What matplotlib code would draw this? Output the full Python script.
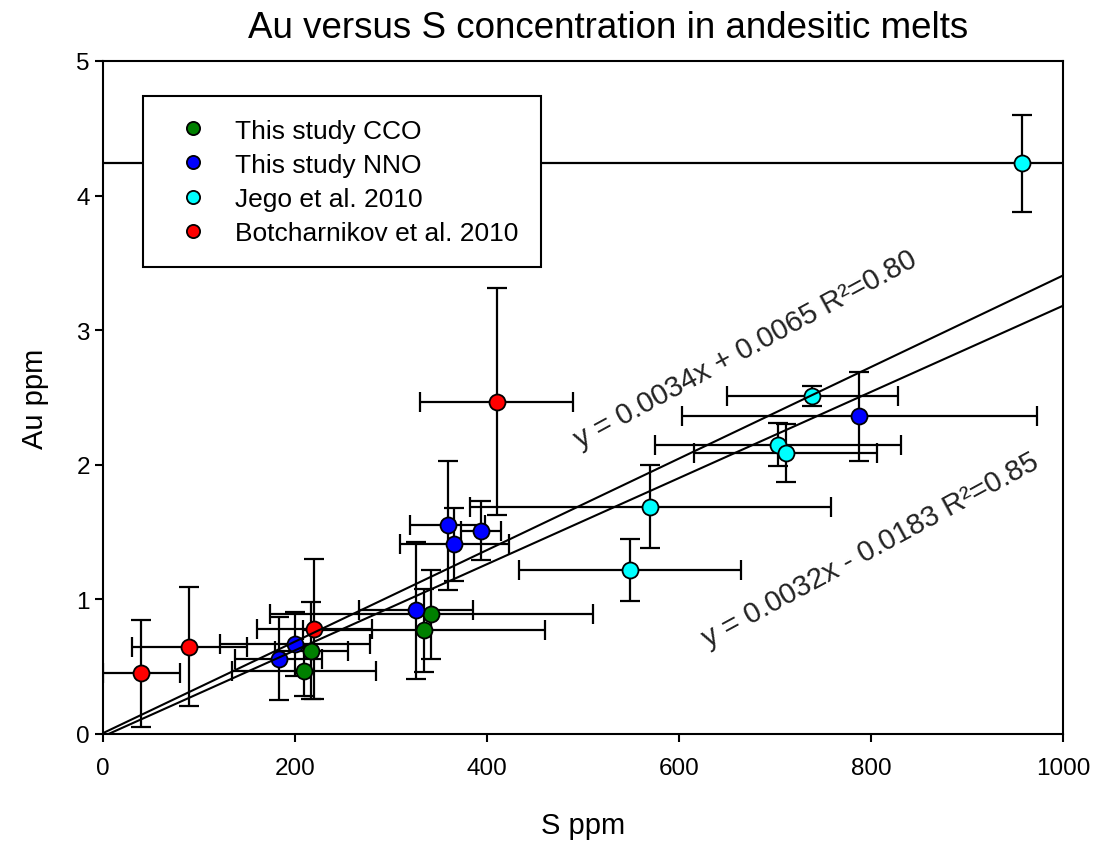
import matplotlib
matplotlib.use("Agg")
import matplotlib.pyplot as plt
from matplotlib.lines import Line2D
import numpy as np

plt.rcParams["font.family"] = ["Liberation Sans", "DejaVu Sans"]

# ---------------------------------------------------------------------------
# Data: S (ppm) and Au (ppm) with 1-sigma errors
# ---------------------------------------------------------------------------
cco_s = [217, 209, 334, 342]
cco_au = [0.62, 0.47, 0.77, 0.89]
cco_s_err = [38, 75, 126, 168]
cco_au_err = [0.36, 0.19, 0.31, 0.33]

nno_s = [183, 200, 326, 359, 366, 394, 788]
nno_au = [0.56, 0.67, 0.92, 1.55, 1.41, 1.51, 2.36]
nno_s_err = [45, 78, 59, 39, 57, 21, 185]
nno_au_err = [0.31, 0.24, 0.51, 0.48, 0.27, 0.22, 0.33]

jego_s = [549, 570, 703, 711, 739, 957]
jego_au = [1.22, 1.69, 2.15, 2.09, 2.51, 4.24]
jego_s_err = [116, 188, 128, 95, 89, 1000]
jego_au_err = [0.23, 0.31, 0.16, 0.215, 0.075, 0.36]

botch_s = [40, 90, 220, 410]
botch_au = [0.45, 0.65, 0.78, 2.47]
botch_s_err = [40, 60, 60, 80]
botch_au_err = [0.40, 0.44, 0.52, 0.84]

# linear fits (slope, intercept, R^2)
fit_all = (0.0034, 0.0065, 0.80)
fit_sub = (0.0032, -0.0183, 0.85)

series = [
    ("This study CCO", cco_s, cco_au, cco_s_err, cco_au_err, "#008000"),
    ("This study NNO", nno_s, nno_au, nno_s_err, nno_au_err, "#0000ff"),
    ("Jego et al. 2010", jego_s, jego_au, jego_s_err, jego_au_err, "#00ffff"),
    ("Botcharnikov et al. 2010", botch_s, botch_au, botch_s_err, botch_au_err, "#ff0000"),
]

W, H = 1096, 845
fig = plt.figure(figsize=(W / 100, H / 100), dpi=100)
ax = fig.add_axes([103 / W, 1 - 735 / H, 960 / W, 673 / H])

for label, s, au, s_err, au_err, color in series:
    ax.errorbar(s, au, xerr=s_err, yerr=au_err, fmt="none", ecolor="black",
                elinewidth=1.6, capsize=7, capthick=1.6, zorder=2)
    ax.plot(s, au, "o", ms=11.5, mfc=color, mec="black", mew=1.3, zorder=3)

# regression lines
xs = np.array([0, 1000])
for m, b, r2 in (fit_all, fit_sub):
    ax.plot(xs, m * xs + b, color="black", lw=1.5, zorder=4)

ax.text(669, 2.86, f"y = {fit_all[0]:.4f}x + {fit_all[1]:.4f} R²={fit_all[2]:.2f}",
        rotation=28.5, ha="center", va="center", rotation_mode="anchor",
        fontsize=21, color="#222222", zorder=5)
ax.text(799, 1.37, f"y = {fit_sub[0]:.4f}x - {abs(fit_sub[1]):.4f} R²={fit_sub[2]:.2f}",
        rotation=28.5, ha="center", va="center", rotation_mode="anchor",
        fontsize=21, color="#222222", zorder=5)

ax.set_xlim(0, 1000)
ax.set_ylim(0, 5)
ax.set_xticks([0, 200, 400, 600, 800, 1000])
ax.set_yticks([0, 1, 2, 3, 4, 5])
for sp in ax.spines.values():
    sp.set_linewidth(1.5)
ax.tick_params(axis="both", direction="out", length=5.5, width=1.5, labelsize=17.5)
ax.tick_params(axis="x", pad=11)
ax.tick_params(axis="y", pad=4)

ax.set_xlabel("S ppm", fontsize=21)
ax.set_ylabel("Au ppm", fontsize=21)
ax.xaxis.set_label_coords(0.5, -0.114)
ax.yaxis.set_label_coords(-0.056, 0.5)

fig.text(608 / W, 1 - 28 / H, "Au versus S concentration in andesitic melts",
         ha="center", va="center", fontsize=26.5)

handles = [Line2D([], [], ls="none", marker="o", ms=9.5, mfc=c, mec="black", mew=1.3)
           for _, _, _, _, _, c in series]
labels = [lab for lab, *_ in series]
leg = ax.legend(handles, labels, loc="upper left",
                bbox_to_anchor=(143 / W, 1 - 97 / H), bbox_transform=fig.transFigure,
                borderaxespad=0, fontsize=19, frameon=True, fancybox=False,
                framealpha=1, borderpad=0.86, handlelength=2.1, handletextpad=0.54,
                labelspacing=0.38, numpoints=1)
leg.get_frame().set_edgecolor("black")
leg.get_frame().set_linewidth(1.5)
leg.set_zorder(10)

fig.savefig("out.png", dpi=100)
